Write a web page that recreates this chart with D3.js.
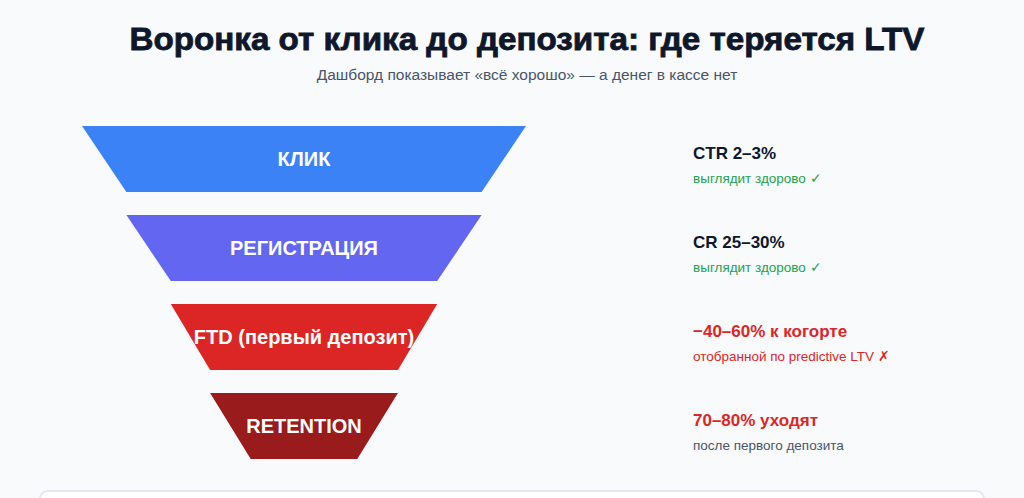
<!DOCTYPE html><html><head><meta charset="utf-8"><script src="https://cdn.jsdelivr.net/npm/d3@7"></script>
<style>body{margin:0;background:#f8fafc;font-family:"Liberation Sans",Arial,sans-serif}</style></head><body><svg id="c" width="1024" height="498"></svg>
<script>
const stages=["КЛИК","РЕГИСТРАЦИЯ","FTD (первый депозит)","RETENTION"];
const widthsPct=[100,80,60,42.3,24];
const colors=["#3b82f6","#6366f1","#dc2626","#991b1b"];
const metrics=["CTR 2–3%","CR 25–30%","−40–60% к когорте","70–80% уходят"];
const metricColors=["#0f172a","#0f172a","#dc2626","#dc2626"];
const notes=["выглядит здорово ✓","выглядит здорово ✓","отобранной по predictive LTV ✗","после первого депозита"];
const noteColors=["#22a350","#22a350","#dc2626","#475569"];
const svg=d3.select("#c");
svg.append("rect").attr("x",40).attr("y",491).attr("width",944).attr("height",30).attr("rx",8).attr("fill","#fff").attr("stroke","#e2e8f0").attr("stroke-width",2);
svg.append("text").attr("x",527).attr("y",50).attr("text-anchor","middle").attr("font-size",31).attr("font-weight","bold").attr("stroke","#0f172a").attr("stroke-width",0.8).attr("textLength",795).attr("lengthAdjust","spacingAndGlyphs").attr("fill","#0f172a").text("Воронка от клика до депозита: где теряется LTV");
svg.append("text").attr("x",527).attr("y",80).attr("text-anchor","middle").attr("font-size",15.5).attr("fill","#475569").text("Дашборд показывает «всё хорошо» — а денег в кассе нет");
const w=d3.scaleLinear().domain([0,100]).range([0,444]);
const y=d3.scaleBand().domain(stages).range([126,459]).paddingInner(0.258).paddingOuter(0);
const cx=304;
stages.forEach((s,i)=>{
 const t=w(widthsPct[i])/2,b=w(widthsPct[i+1])/2,y0=y(s),y1=y0+y.bandwidth();
 svg.append("path").attr("d",`M${cx-t},${y0}L${cx+t},${y0}L${cx+b},${y1}L${cx-b},${y1}Z`).attr("fill",colors[i]);
 svg.append("text").attr("x",cx).attr("y",(y0+y1)/2+7).attr("text-anchor","middle").attr("font-size",20).attr("font-weight","bold").attr("fill","#fff").text(s);
 svg.append("text").attr("x",693).attr("y",y0+33).attr("font-size",17).attr("font-weight","bold").attr("fill",metricColors[i]).text(metrics[i]);
 svg.append("text").attr("x",693).attr("y",y0+57).attr("font-size",13.5).attr("fill",noteColors[i]).text(notes[i]);
});
</script></body></html>
